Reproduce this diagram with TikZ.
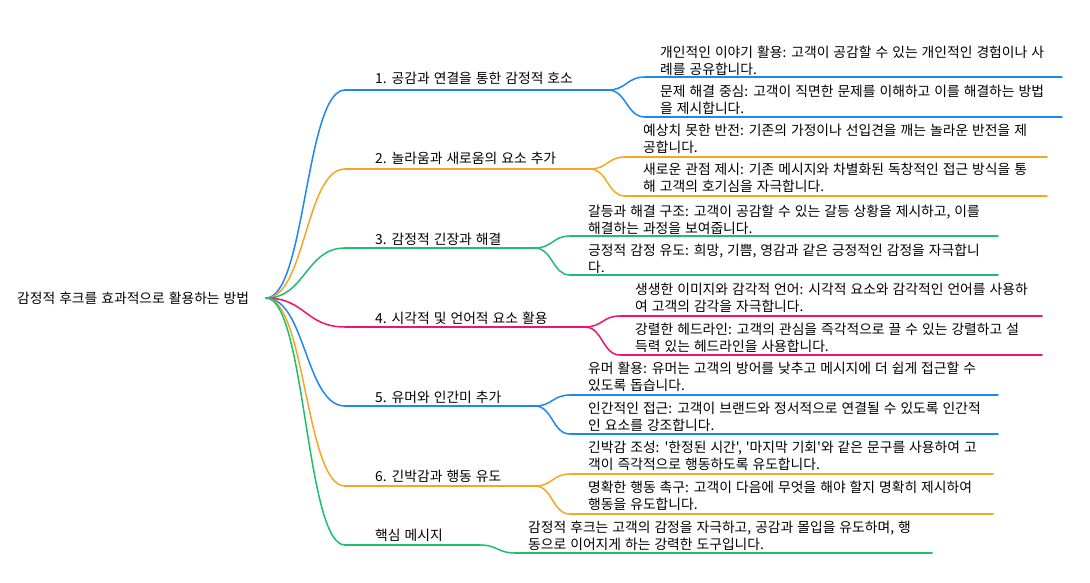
\documentclass[tikz,border=0pt]{standalone}
\usepackage{fontspec}
\newfontfamily\kr{Noto Sans CJK KR}[WordSpace=1.3]
\usetikzlibrary{calc}
\definecolor{cblue}{RGB}{30,136,240}
\definecolor{corange}{RGB}{245,166,35}
\definecolor{cgreen}{RGB}{30,190,110}
\definecolor{cpink}{RGB}{240,20,110}
\newcommand\mmlink[3]{\draw[#1] let \p1=(#2), \p2=(#3) in (#2) .. controls ({(\x1+\x2)/2},\y1) and ({(\x1+\x2)/2},\y2) .. (#3);}
\newcommand\mmbranch[8]{%
  % #1 id, #2 y, #3 end x, #4 child start, #5 child end, #6 ya, #7 yb, #8 colour
  \coordinate (b#1s) at (345,#2);
  \coordinate (b#1e) at (#3,#2);
  \coordinate (c#1as) at (#4,#6);
  \coordinate (c#1ae) at (#5,#6);
  \coordinate (c#1bs) at (#4,#7);
  \coordinate (c#1be) at (#5,#7);
  \mmlink{lnk,#8}{R}{b#1s}
  \draw[lnk,#8] (b#1s) -- (b#1e);
  \mmlink{lnk,#8}{b#1e}{c#1as}
  \mmlink{lnk,#8}{b#1e}{c#1bs}
  \draw[lnk,#8] (c#1as) -- (c#1ae);
  \draw[lnk,#8] (c#1bs) -- (c#1be);
}
\tikzset{
  txt/.style={anchor=west, inner sep=0pt, align=left, text=black, font=\kr\fontsize{13.8}{16.8}\selectfont},
  lnk/.style={line width=1.5pt, line cap=round},
}
\begin{document}
\begin{tikzpicture}[x=1pt,y=-1pt]
\useasboundingbox[fill=white] (0,0) rectangle (1090,583);
% root
\node[txt] (root) at (17,298) {감정적 후크를 효과적으로 활용하는 방법};
\coordinate (R) at (266,298);
\mmbranch{A}{90}{608}{645}{1062}{77}{117}{cblue}
\mmbranch{B}{169}{590}{625}{1047}{157}{196}{corange}
\mmbranch{C}{248}{535}{570}{998}{236}{275}{cgreen}
\mmbranch{D}{327}{585}{620}{1042}{316}{355}{cpink}
\mmbranch{E}{406}{535}{570}{998}{395}{434}{cblue}
\mmbranch{F}{486}{535}{570}{993}{474}{514}{corange}
\coordinate (bGs) at (345,545);
\coordinate (bGe) at (480,545);
\coordinate (cGas) at (515,553);
\coordinate (cGae) at (932,553);
\mmlink{lnk,cgreen}{R}{bGs}
\draw[lnk,cgreen] (bGs) -- (bGe);
\mmlink{lnk,cgreen}{bGe}{cGas}
\draw[lnk,cgreen] (cGas) -- (cGae);
% branch labels
\node[txt] (b1) at (375,78) {1. 공감과 연결을 통한 감정적 호소};
\node[txt] (b2) at (375,158) {2. 놀라움과 새로움의 요소 추가};
\node[txt] (b3) at (375,239) {3. 감정적 긴장과 해결};
\node[txt] (b4) at (375,318) {4. 시각적 및 언어적 요소 활용};
\node[txt] (b5) at (375,397) {5. 유머와 인간미 추가};
\node[txt] (b6) at (375,476) {6. 긴박감과 행동 유도};
\node[txt] (b7) at (375,535) {핵심 메시지};
% leaf labels
\node[txt] (c11) at (660,60.5) {개인적인 이야기 활용: 고객이 공감할 수 있는 개인적인 경험이나 사\\례를 공유합니다.};
\node[txt] (c12) at (660,99.5) {문제 해결 중심: 고객이 직면한 문제를 이해하고 이를 해결하는 방법\\을 제시합니다.};
\node[txt] (c21) at (643,139) {예상치 못한 반전: 기존의 가정이나 선입견을 깨는 놀라운 반전을 제\\공합니다.};
\node[txt] (c22) at (643,178) {새로운 관점 제시: 기존 메시지와 차별화된 독창적인 접근 방식을 통\\해 고객의 호기심을 자극합니다.};
\node[txt] (c31) at (588,220) {갈등과 해결 구조: 고객이 공감할 수 있는 갈등 상황을 제시하고, 이를\\해결하는 과정을 보여줍니다.};
\node[txt] (c32) at (588,259) {긍정적 감정 유도: 희망, 기쁨, 영감과 같은 긍정적인 감정을 자극합니\\다.};
\node[txt] (c41) at (635,297.5) {생생한 이미지와 감각적 언어: 시각적 요소와 감각적인 언어를 사용하\\여 고객의 감각을 자극합니다.};
\node[txt] (c42) at (635,338) {강렬한 헤드라인: 고객의 관심을 즉각적으로 끌 수 있는 강렬하고 설\\득력 있는 헤드라인을 사용합니다.};
\node[txt] (c51) at (588,376.5) {유머 활용: 유머는 고객의 방어를 낮추고 메시지에 더 쉽게 접근할 수\\있도록 돕습니다.};
\node[txt] (c52) at (588,416.5) {인간적인 접근: 고객이 브랜드와 정서적으로 연결될 수 있도록 인간적\\인 요소를 강조합니다.};
\node[txt] (c61) at (588,456) {긴박감 조성: '한정된 시간', '마지막 기회'와 같은 문구를 사용하여 고\\객이 즉각적으로 행동하도록 유도합니다.};
\node[txt] (c62) at (588,495.5) {명확한 행동 촉구: 고객이 다음에 무엇을 해야 할지 명확히 제시하여\\행동을 유도합니다.};
\node[txt] (c71) at (528,535.5) {감정적 후크는 고객의 감정을 자극하고, 공감과 몰입을 유도하며, 행\\동으로 이어지게 하는 강력한 도구입니다.};
\end{tikzpicture}
\end{document}
